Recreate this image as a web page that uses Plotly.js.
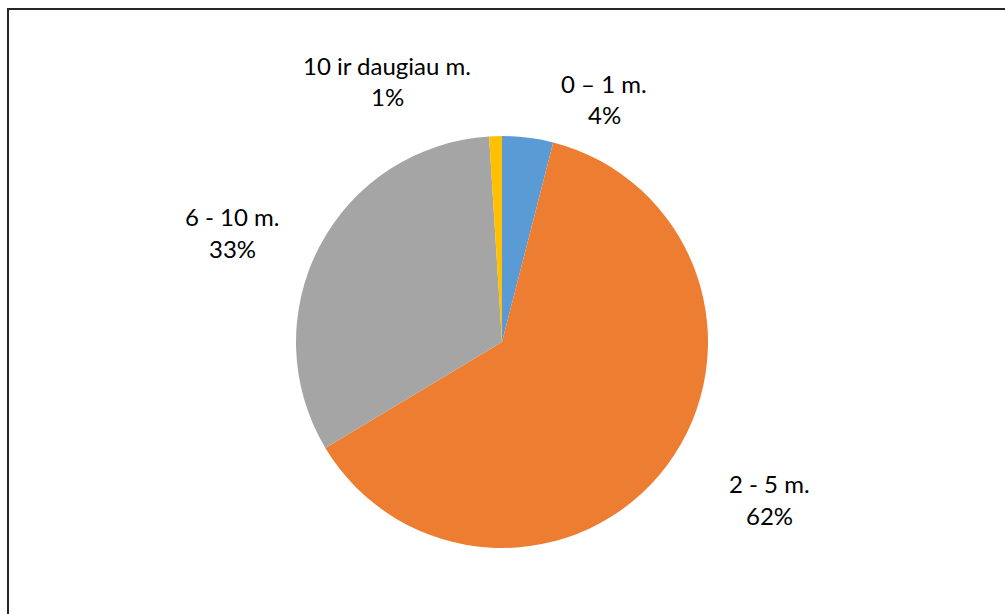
<!DOCTYPE html>
<html>
<head>
<meta charset="utf-8">
<script src="https://cdn.plot.ly/plotly-3.0.1.min.js"></script>
<style>
  html, body { margin: 0; padding: 0; background: #fff; overflow: hidden; }
  #chart { width: 1005px; height: 614px; }
</style>
</head>
<body>
<div id="chart"></div>
<script>
// Data
const categories = ["0 \u2013 1 m.", "2 - 5 m.", "6 - 10 m.", "10 ir daugiau m."];
const values = [4.0, 62.4, 32.6, 1.0];
const colors = ["#5B9BD5", "#ED7D31", "#A5A5A5", "#FFC000"];
// label anchor positions (pixels, centre of first label line)
const labelPos = [[604, 83], [769, 483], [232, 217], [387, 65]];

const W = 1005, H = 614;
const cx = 502, cy = 342, r = 206;
const total = values.reduce((a, b) => a + b, 0);

const trace = {
  type: "pie",
  labels: categories,
  values: values,
  sort: false,
  direction: "clockwise",
  rotation: 0,
  textinfo: "none",
  hoverinfo: "label+percent",
  marker: { colors: colors, line: { width: 0 } },
  showlegend: false,
  domain: { x: [(cx - r) / W, (cx + r) / W], y: [1 - (cy + r) / H, 1 - (cy - r) / H] }
};

const font = { family: "Lato, 'Open Sans', sans-serif", size: 24, color: "#000" };
const annotations = [];
categories.forEach((c, i) => {
  const [px, py] = labelPos[i];
  const pct = Math.round(values[i] / total * 100) + "%";
  annotations.push({ xref: "paper", yref: "paper", x: px / W, y: 1 - py / H, text: c,
    showarrow: false, font: font, xanchor: "center", yanchor: "middle" });
  annotations.push({ xref: "paper", yref: "paper", x: px / W, y: 1 - (py + 32) / H, text: pct,
    showarrow: false, font: font, xanchor: "center", yanchor: "middle" });
});

const layout = {
  width: W, height: H,
  margin: { l: 0, r: 0, t: 0, b: 0 },
  paper_bgcolor: "#fff",
  plot_bgcolor: "#fff",
  annotations: annotations,
  shapes: [
    { type: "line", xref: "paper", yref: "paper", x0: 9 / W, x1: 1.01, y0: 1 - 9 / H, y1: 1 - 9 / H,
      line: { color: "#262626", width: 2 } },
    { type: "line", xref: "paper", yref: "paper", x0: 8 / W, x1: 8 / W, y0: 1 - 8 / H, y1: -0.01,
      line: { color: "#262626", width: 2 } }
  ]
};

Plotly.newPlot("chart", [trace], layout, { displayModeBar: false, staticPlot: true });
</script>
</body>
</html>
